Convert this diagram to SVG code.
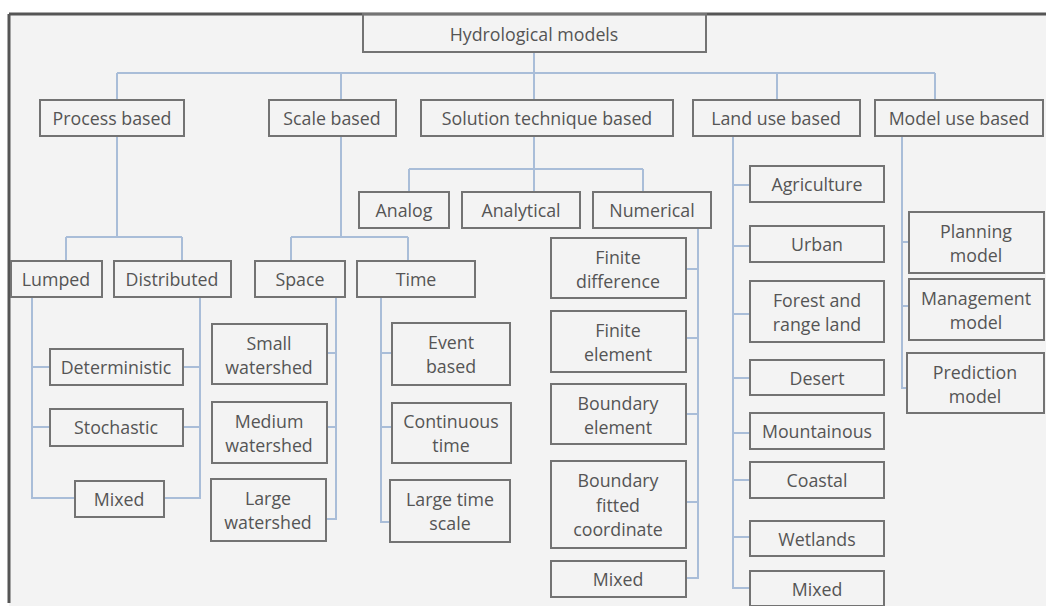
<svg xmlns="http://www.w3.org/2000/svg" width="1046" height="606" viewBox="0 0 1046 606">
<style>
.b{fill:none;stroke:#737373;stroke-width:2}
.c{fill:none;stroke:#a9bdd8;stroke-width:2}
text{font-family:"Open Sans","Liberation Sans",Arial,sans-serif;font-size:17.8px;fill:#555555;text-anchor:middle}
</style>
<rect x="0" y="0" width="1046" height="606" fill="#ffffff"/>
<rect x="9" y="14" width="1037" height="592" fill="#f3f3f3"/>
<path d="M9 14 H1046 M9 14 V603" stroke="#555" stroke-width="3" fill="none"/>
<g id="connectors" class="c">
<path class="c" d="M534 52 V73 M117 73 H935 M117 73 V100 M341 73 V100 M534 73 V100 M777 73 V100 M935 73 V100"/>
<path class="c" d="M117 136 V237 M66 237 H182 M66 237 V261 M182 237 V261"/>
<path class="c" d="M32 297 V498 H75 M32 367 H50 M32 427 H50"/>
<path class="c" d="M200 297 V498 H164 M183 367 H200 M183 427 H200"/>
<path class="c" d="M341 136 V237 M291 237 H408 M291 237 V261 M408 237 V261"/>
<path class="c" d="M336 297 V519 H326 M327 353 H336 M327 427 H336"/>
<path class="c" d="M381 297 V522 H390 M381 353 H392 M381 427 H392"/>
<path class="c" d="M534 136 V169 M409 169 H643 M409 169 V192 M534 169 V192 M643 169 V192"/>
<path class="c" d="M698 228 V578 H686 M686 269 H698 M686 338 H698 M686 414 H698 M686 502 H698"/>
<path class="c" d="M733 136 V588 H750 M733 185 H750 M733 246 H750 M733 314 H750 M733 378 H750 M733 433 H750 M733 480 H750 M733 537 H750"/>
<path class="c" d="M902 136 V388 H907 M902 242 H909 M902 306 H909"/>
</g>
<g id="hydro"><rect class="b" x="363" y="14" width="343" height="38"/><text x="534" y="41">Hydrological models</text></g>
<g id="process"><rect class="b" x="40" y="100" width="144" height="36"/><text x="112" y="125">Process based</text></g>
<g id="scale"><rect class="b" x="269" y="100" width="127" height="36"/><text x="332" y="125">Scale based</text></g>
<g id="solution"><rect class="b" x="421" y="100" width="252" height="36"/><text x="547" y="125">Solution technique based</text></g>
<g id="landuse"><rect class="b" x="693" y="100" width="167" height="36"/><text x="776" y="125">Land use based</text></g>
<g id="modeluse"><rect class="b" x="875" y="100" width="168" height="36"/><text x="959" y="125">Model use based</text></g>
<g id="lumped"><rect class="b" x="11" y="261" width="91" height="36"/><text x="56" y="286">Lumped</text></g>
<g id="distributed"><rect class="b" x="114" y="261" width="117" height="36"/><text x="172" y="286">Distributed</text></g>
<g id="deterministic"><rect class="b" x="50" y="349" width="133" height="36"/><text x="116" y="374">Deterministic</text></g>
<g id="stochastic"><rect class="b" x="50" y="409" width="133" height="37"/><text x="116" y="434">Stochastic</text></g>
<g id="mixed1"><rect class="b" x="75" y="481" width="89" height="36"/><text x="119" y="506">Mixed</text></g>
<g id="space"><rect class="b" x="255" y="261" width="90" height="36"/><text x="300" y="286">Space</text></g>
<g id="time"><rect class="b" x="357" y="261" width="118" height="36"/><text x="416" y="286">Time</text></g>
<g id="small"><rect class="b" x="212" y="324" width="115" height="60"/><text x="269" y="350">Small</text><text x="269" y="374">watershed</text></g>
<g id="medium"><rect class="b" x="212" y="402" width="115" height="61"/><text x="269" y="428">Medium</text><text x="269" y="452">watershed</text></g>
<g id="large"><rect class="b" x="211" y="479" width="115" height="62"/><text x="268" y="505">Large</text><text x="268" y="529">watershed</text></g>
<g id="event"><rect class="b" x="392" y="323" width="118" height="62"/><text x="451" y="349">Event</text><text x="451" y="373">based</text></g>
<g id="continuous"><rect class="b" x="392" y="403" width="119" height="60"/><text x="451" y="428">Continuous</text><text x="451" y="452">time</text></g>
<g id="largetime"><rect class="b" x="390" y="480" width="120" height="62"/><text x="450" y="506">Large time</text><text x="450" y="530">scale</text></g>
<g id="analog"><rect class="b" x="359" y="192" width="90" height="36"/><text x="404" y="217">Analog</text></g>
<g id="analytical"><rect class="b" x="462" y="192" width="118" height="36"/><text x="521" y="217">Analytical</text></g>
<g id="numerical"><rect class="b" x="593" y="192" width="118" height="36"/><text x="652" y="217">Numerical</text></g>
<g id="finitediff"><rect class="b" x="551" y="238" width="135" height="60"/><text x="618" y="264">Finite</text><text x="618" y="288">difference</text></g>
<g id="finiteel"><rect class="b" x="551" y="311" width="135" height="61"/><text x="618" y="337">Finite</text><text x="618" y="361">element</text></g>
<g id="boundaryel"><rect class="b" x="551" y="384" width="135" height="60"/><text x="618" y="410">Boundary</text><text x="618" y="434">element</text></g>
<g id="bfc"><rect class="b" x="551" y="461" width="135" height="87"/><text x="618" y="487">Boundary</text><text x="618" y="512">fitted</text><text x="618" y="536">coordinate</text></g>
<g id="mixed2"><rect class="b" x="551" y="561" width="135" height="36"/><text x="618" y="586">Mixed</text></g>
<g id="agriculture"><rect class="b" x="750" y="166" width="134" height="36"/><text x="817" y="191">Agriculture</text></g>
<g id="urban"><rect class="b" x="750" y="226" width="134" height="36"/><text x="817" y="251">Urban</text></g>
<g id="forest"><rect class="b" x="750" y="281" width="134" height="61"/><text x="817" y="307">Forest and</text><text x="817" y="331">range land</text></g>
<g id="desert"><rect class="b" x="750" y="360" width="134" height="35"/><text x="817" y="385">Desert</text></g>
<g id="mountainous"><rect class="b" x="750" y="413" width="134" height="36"/><text x="817" y="438">Mountainous</text></g>
<g id="coastal"><rect class="b" x="750" y="462" width="134" height="36"/><text x="817" y="487">Coastal</text></g>
<g id="wetlands"><rect class="b" x="750" y="521" width="134" height="35"/><text x="817" y="546">Wetlands</text></g>
<g id="mixed3"><rect class="b" x="750" y="571" width="134" height="35"/><text x="817" y="596">Mixed</text></g>
<g id="planning"><rect class="b" x="909" y="212" width="135" height="61"/><text x="976" y="238">Planning</text><text x="976" y="262">model</text></g>
<g id="management"><rect class="b" x="909" y="279" width="135" height="61"/><text x="976" y="305">Management</text><text x="976" y="329">model</text></g>
<g id="prediction"><rect class="b" x="907" y="353" width="137" height="60"/><text x="975" y="379">Prediction</text><text x="975" y="403">model</text></g>
</svg>
